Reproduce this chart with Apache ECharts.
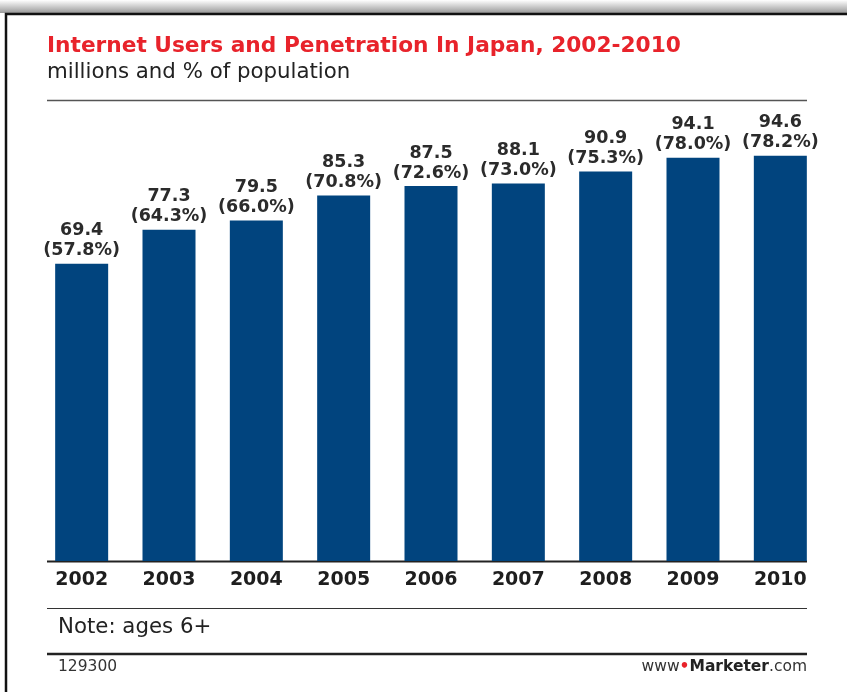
<!DOCTYPE html>
<html><head><meta charset="utf-8">
<script src="https://cdn.jsdelivr.net/npm/echarts@6/dist/echarts.min.js"></script>
<style>html,body{margin:0;padding:0;background:#fff}#c{width:847px;height:692px}</style>
</head><body><div id="c"></div>
<script>
const years = ['2002','2003','2004','2005','2006','2007','2008','2009','2010'];
const users = [69.4, 77.3, 79.5, 85.3, 87.5, 88.1, 90.9, 94.1, 94.6];
const penetration = ['57.8%','64.3%','66.0%','70.8%','72.6%','73.0%','75.3%','78.0%','78.2%'];

const chart = echarts.init(document.getElementById('c'));
const F = 'DejaVu Sans, Verdana, sans-serif';
chart.setOption({
  animation: false,
  backgroundColor: '#fff',
  grid: { left: 38, right: 23, top: 100, bottom: 131 },
  xAxis: {
    type: 'category', data: years,
    axisLine: { show: false }, axisTick: { show: false },
    axisLabel: { fontFamily: F, fontWeight: 'bold', fontSize: 19, color: '#1e1e1e', margin: 10 }
  },
  yAxis: { type: 'value', min: 0, max: 107.6, show: false, splitLine: { show: false } },
  series: [{
    type: 'bar', data: users, barWidth: 53,
    itemStyle: { color: '#01447e' },
    label: {
      show: true, position: 'top', distance: 3,
      fontFamily: F, fontWeight: 'bold', fontSize: 17.5, color: '#2b2b2b', lineHeight: 20,
      formatter: p => p.value.toFixed(1) + '\n(' + penetration[p.dataIndex] + ')'
    }
  }],
  graphic: [
    { type: 'rect', shape: { x: 0, y: 0, width: 847, height: 13 },
      style: { fill: new echarts.graphic.LinearGradient(0, 0, 0, 1, [{offset:0,color:'#ffffff'},{offset:1,color:'#999999'}]) }, silent: true },
    { type: 'rect', shape: { x: 6, y: 14, width: 900, height: 700 },
      style: { fill: 'none', stroke: '#111', lineWidth: 2.5 }, silent: true },
    { type: 'text', left: 47, top: 35, style: { text: 'Internet Users and Penetration In Japan, 2002-2010', font: 'bold 21.7px ' + F, fill: '#e8232b' } },
    { type: 'text', left: 47, top: 62, style: { text: 'millions and % of population', font: '21.3px ' + F, fill: '#222' } },
    { type: 'line', shape: { x1: 47, y1: 100.5, x2: 807, y2: 100.5 }, style: { stroke: '#555', lineWidth: 1.5 } },
    { type: 'line', shape: { x1: 47, y1: 561.5, x2: 807, y2: 561.5 }, style: { stroke: '#222', lineWidth: 2 } },
    { type: 'line', shape: { x1: 47, y1: 608.5, x2: 807, y2: 608.5 }, style: { stroke: '#333', lineWidth: 1 } },
    { type: 'text', left: 58, top: 617, style: { text: 'Note: ages 6+', font: '21.3px ' + F, fill: '#222' } },
    { type: 'line', shape: { x1: 47, y1: 654, x2: 807, y2: 654 }, style: { stroke: '#222', lineWidth: 2.5 } },
    { type: 'text', left: 58, top: 659, style: { text: '129300', font: '15.5px ' + F, fill: '#333' } },
    { type: 'text', right: 40, top: 659, style: {
      text: '{a|www}{d|•}{b|Marketer}{a|.com}',
      rich: { a: { font: '15.5px ' + F, fill: '#333' }, d: { font: 'bold 15.5px ' + F, fill: '#e8232b' }, b: { font: 'bold 15.5px ' + F, fill: '#222' } }
    } }
  ]
});
</script></body></html>
